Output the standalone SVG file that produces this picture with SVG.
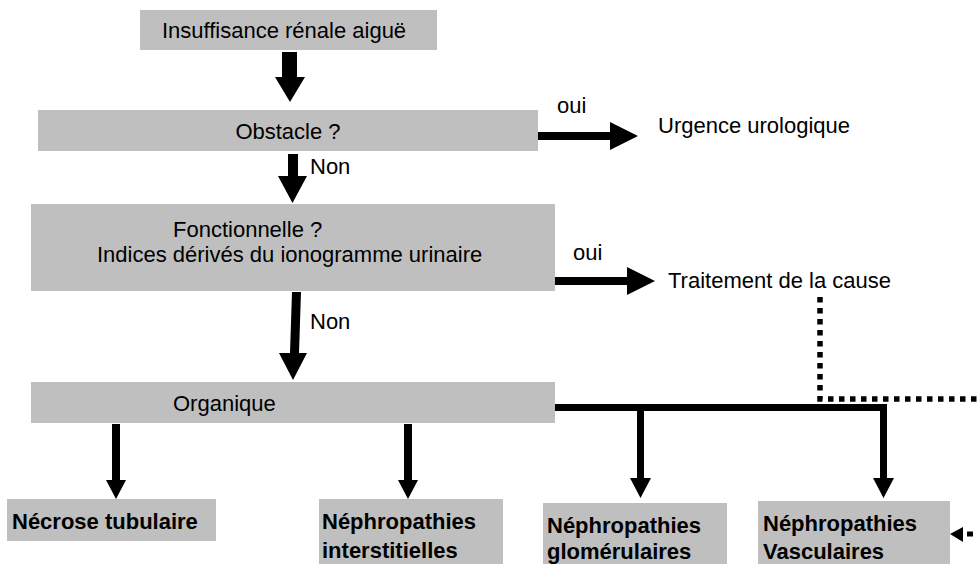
<svg xmlns="http://www.w3.org/2000/svg" width="978" height="564" viewBox="0 0 978 564">
<style>
.box{fill:#bfbfbf}
text{font-family:"Liberation Sans",Arial,sans-serif;font-size:22px;fill:#000}
.b{font-weight:bold}
.arr{fill:#000}
.dot{fill:none;stroke:#000;stroke-width:5.5;stroke-dasharray:5.5 5.5}
</style>
<rect width="978" height="564" fill="#fff"/>
<g id="connectors">
<polygon class="arr" points="282,52 297,52 297,77 305,77 290,102 275,77 282,77"/>
<polygon class="arr" points="288,154 298,154 298,176 307,176 292.5,203 278,176 288,176"/>
<polygon class="arr" points="292,292 301,292 299,353 307,353 293,380 279,353 290,353"/>
<polygon class="arr" points="538,132 610,132 610,122 638,136 610,150 610,140 538,140"/>
<polygon class="arr" points="555,277 627,277 627,267 655,281 627,295 627,285 555,285"/>
<polygon class="arr" points="112,424 120,424 120,480 126,480 116,499 106,480 112,480"/>
<polygon class="arr" points="404,424 412,424 412,480 418,480 408,499 398,480 404,480"/>
<polygon class="arr" points="555,404 887,404 887,478 894,478 883.5,498 873,478 880,478 880,411 644,411 644,478 651,478 640.5,498 630,478 637,478 637,411 555,411"/>
<path class="dot" d="M820,297 V399 H978"/>
<polygon class="arr" points="950,534 963,527 963,542"/>
<line x1="967" y1="534" x2="978" y2="534" stroke="#000" stroke-width="5" stroke-dasharray="6 5"/>
</g>
<g id="label-oui1"><text x="557" y="113">oui</text></g>
<g id="label-non1"><text x="310" y="174">Non</text></g>
<g id="label-oui2"><text x="573" y="260">oui</text></g>
<g id="label-non2"><text x="310" y="329">Non</text></g>
<g id="n-ira"><rect class="box" x="140" y="10" width="297" height="40"/><text x="284" y="38" text-anchor="middle">Insuffisance rénale aiguë</text></g>
<g id="n-obstacle"><rect class="box" x="38" y="110" width="500" height="41"/><text x="288" y="139" text-anchor="middle">Obstacle ?</text></g>
<g id="n-urgence"><text x="658" y="133">Urgence urologique</text></g>
<g id="n-fonctionnelle"><rect class="box" x="31" y="204" width="524" height="87"/><text x="173" y="237">Fonctionnelle ?</text><text x="97" y="262">Indices dérivés du ionogramme urinaire</text></g>
<g id="n-traitement"><text x="668" y="288">Traitement de la cause</text></g>
<g id="n-organique"><rect class="box" x="31" y="382" width="524" height="41"/><text x="173" y="411">Organique</text></g>
<g id="n-necrose"><rect class="box" x="7" y="499" width="209" height="42"/><text class="b" x="12" y="529">Nécrose tubulaire</text></g>
<g id="n-interstitielles"><rect class="box" x="319" y="499" width="184" height="65"/><text class="b" x="322" y="529">Néphropathies</text><text class="b" x="322" y="558">interstitielles</text></g>
<g id="n-glomerulaires"><rect class="box" x="543" y="503" width="184" height="61"/><text class="b" x="547" y="533">Néphropathies</text><text class="b" x="547" y="559">glomérulaires</text></g>
<g id="n-vasculaires"><rect class="box" x="758" y="501" width="192" height="63"/><text class="b" x="763" y="531">Néphropathies</text><text class="b" x="763" y="559">Vasculaires</text></g>
</svg>
